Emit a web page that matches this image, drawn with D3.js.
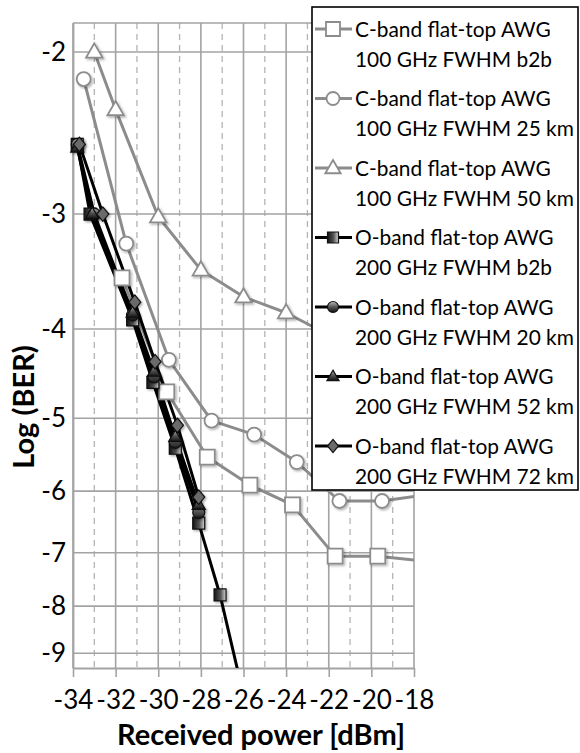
<!DOCTYPE html>
<html>
<head>
<meta charset="utf-8">
<script src="https://cdn.jsdelivr.net/npm/d3@7"></script>
<style>
  html, body { margin: 0; padding: 0; background: #fff; }
  svg { display: block; }
  text { font-family: Lato, "Noto Sans", sans-serif; fill: #000; }
</style>
</head>
<body>
<svg id="chart" width="580" height="753"></svg>
<script>
// ---------- data ----------
const xTicks = [-34, -32, -30, -28, -26, -24, -22, -20, -18];
const xMinor = [-33, -31, -29, -27, -25, -23, -21, -19];
const yTicks = [-2, -3, -4, -5, -6, -7, -8, -9];

const cB2bX = [-31.7, -29.6, -27.7, -25.7, -23.7, -21.7, -19.7, -17.7];
const cB2bY = [-3.52, -4.68, -5.51, -5.91, -6.21, -7.06, -7.06, -7.14];

const c25X = [-33.5, -31.5, -29.5, -27.5, -25.5, -23.5, -21.5, -19.5, -17.5];
const c25Y = [-2.14, -3.23, -4.32, -5.03, -5.21, -5.58, -6.15, -6.15, -6.06];

const c50X = [-33.0, -32.0, -30.0, -28.0, -26.0, -24.0, -22.0, -20.0];
const c50Y = [-2.0, -2.31, -3.02, -3.45, -3.69, -3.84, -4.06, -4.2];

const oB2bX = [-33.8, -33.2, -31.2, -30.25, -29.2, -28.1, -27.1, -26.0];
const oB2bY = [-2.52, -3.0, -3.91, -4.57, -5.39, -6.50, -7.78, -10.0];

const o20X = [-33.8, -33.0, -31.2, -30.2, -29.2, -28.1];
const o20Y = [-2.52, -3.0, -3.86, -4.51, -5.31, -6.33];

const o52X = [-33.8, -33.1, -31.2, -30.2, -29.2, -28.1];
const o52Y = [-2.54, -3.0, -3.84, -4.45, -5.24, -6.21];

const o72X = [-33.7, -32.6, -31.1, -30.15, -29.1, -28.1];
const o72Y = [-2.52, -3.0, -3.74, -4.34, -5.09, -6.09];

const seriesNames = [
  ["C-band flat-top AWG", "100 GHz FWHM b2b"],
  ["C-band flat-top AWG", "100 GHz FWHM 25 km"],
  ["C-band flat-top AWG", "100 GHz FWHM 50 km"],
  ["O-band flat-top AWG", "200 GHz FWHM b2b"],
  ["O-band flat-top AWG", "200 GHz FWHM 20 km"],
  ["O-band flat-top AWG", "200 GHz FWHM 52 km"],
  ["O-band flat-top AWG", "200 GHz FWHM 72 km"]
];

const series = [
  { x: cB2bX, y: cB2bY, shape: "square", band: "C" },
  { x: c25X, y: c25Y, shape: "circle", band: "C" },
  { x: c50X, y: c50Y, shape: "triangle", band: "C" },
  { x: oB2bX, y: oB2bY, shape: "square", band: "O" },
  { x: o20X, y: o20Y, shape: "circle", band: "O" },
  { x: o52X, y: o52Y, shape: "triangle", band: "O" },
  { x: o72X, y: o72Y, shape: "diamond", band: "O" }
].map((s, i) => ({ ...s, name: seriesNames[i], pts: s.x.map((v, j) => [v, s.y[j]]) }));

// ---------- layout ----------
const L = 73, R = 414, T = 23, B = 668;
const svg = d3.select("#chart");

const x = d3.scaleLinear().domain([-34, -18]).range([L, R]);
// Log(BER) axis: log scale applied to -Log(BER)
const yLog = d3.scaleLog().domain([1.86, 9.34]).range([T, B]);
const y = v => yLog(-v);

const defs = svg.append("defs");
defs.append("clipPath").attr("id", "plotclip")
  .append("rect").attr("x", L).attr("y", T).attr("width", R - L).attr("height", B - T);
const grad = defs.append("linearGradient").attr("id", "ograd")
  .attr("x1", "0").attr("y1", "0").attr("x2", "1").attr("y2", "0");
grad.append("stop").attr("offset", "0").attr("stop-color", "#111");
grad.append("stop").attr("offset", "0.55").attr("stop-color", "#555");
grad.append("stop").attr("offset", "1").attr("stop-color", "#d8d8d8");
const gradV = defs.append("linearGradient").attr("id", "ogradV")
  .attr("x1", "0").attr("y1", "0").attr("x2", "0").attr("y2", "1");
gradV.append("stop").attr("offset", "0").attr("stop-color", "#bbb");
gradV.append("stop").attr("offset", "0.5").attr("stop-color", "#555");
gradV.append("stop").attr("offset", "1").attr("stop-color", "#111");
const sh = defs.append("filter").attr("id", "shadow").attr("x", "-50%").attr("y", "-50%").attr("width", "200%").attr("height", "200%");
sh.append("feDropShadow").attr("dx", 1.5).attr("dy", 1.5).attr("stdDeviation", 1.2).attr("flood-color", "#000").attr("flood-opacity", 0.3);

// ---------- grid ----------
const grid = svg.append("g");
grid.selectAll(".minor").data(xMinor).join("line")
  .attr("x1", d => x(d)).attr("x2", d => x(d)).attr("y1", T).attr("y2", B)
  .attr("stroke", "#b4b4b4").attr("stroke-width", 1.3).attr("stroke-dasharray", "6,5");
grid.selectAll(".major").data(xTicks).join("line")
  .attr("x1", d => x(d)).attr("x2", d => x(d)).attr("y1", T).attr("y2", B)
  .attr("stroke", "#a3a3a3").attr("stroke-width", 1.6);
grid.selectAll(".hline").data(yTicks).join("line")
  .attr("x1", L).attr("x2", R).attr("y1", d => y(d)).attr("y2", d => y(d))
  .attr("stroke", "#a3a3a3").attr("stroke-width", 1.6);
grid.append("line").attr("x1", L).attr("x2", R).attr("y1", T).attr("y2", T)
  .attr("stroke", "#a3a3a3").attr("stroke-width", 1.6);

// ---------- axes ----------
const xAxis = svg.append("g").attr("transform", `translate(0,${B})`)
  .call(d3.axisBottom(x).tickValues(xTicks).tickSize(9).tickSizeOuter(0).tickPadding(14).tickFormat(d3.format("d")));
xAxis.select(".domain").attr("stroke", "#a3a3a3").attr("stroke-width", 1.8);
xAxis.selectAll(".tick line").attr("stroke", "#a3a3a3").attr("stroke-width", 1.6);
xAxis.selectAll("text").style("font-size", "26px").style("font-family", "Lato, 'Noto Sans', sans-serif")
  .text(d => "-" + Math.abs(d)).attr("fill", "#000");

const yAxis = svg.append("g").attr("transform", `translate(${L},0)`)
  .call(d3.axisLeft(yLog).tickValues(yTicks.map(v => -v)).tickSize(0).tickPadding(7).tickFormat(d => "-" + d));
yAxis.select(".domain").attr("stroke", "#a3a3a3").attr("stroke-width", 1.8);
yAxis.selectAll("text").style("font-size", "26px").style("font-family", "Lato, 'Noto Sans', sans-serif").attr("fill", "#000");

// ---------- series ----------
const line = d3.line().x(d => x(d[0])).y(d => y(d[1]));
const plot = svg.append("g").attr("clip-path", "url(#plotclip)");

function markerPath(shape, s) {
  if (shape === "square") return `M${-s},${-s}H${s}V${s}H${-s}Z`;
  if (shape === "circle") return d3.symbol(d3.symbolCircle, Math.PI * s * s)();
  if (shape === "triangle") return `M0,${-s * 1.15}L${s * 1.1},${s * 0.75}L${-s * 1.1},${s * 0.75}Z`;
  if (shape === "diamond") return `M0,${-s * 1.2}L${s},0L0,${s * 1.2}L${-s},0Z`;
}
function styleMarker(sel, s) {
  if (s.band === "C") {
    sel.attr("fill", "#fff").attr("stroke", "#8c8c8c").attr("stroke-width", 1.8);
  } else {
    sel.attr("fill", s.shape === "square" ? "url(#ograd)" : (s.shape === "diamond" ? "#6a6a6a" : "url(#ogradV)"))
      .attr("stroke", "#111").attr("stroke-width", 1.2);
  }
}
const cSize = { square: 7.5, circle: 7, triangle: 7.5 };
const oSize = { square: 6, circle: 6, triangle: 6, diamond: 6 };

series.forEach(s => {
  plot.append("path").datum(s.pts)
    .attr("d", line).attr("fill", "none")
    .attr("stroke", s.band === "C" ? "#8c8c8c" : "#000")
    .attr("stroke-width", 3)
    .attr("stroke-linejoin", "round");
});
series.forEach(s => {
  const sz = s.band === "C" ? cSize[s.shape] : oSize[s.shape];
  const g = svg.append("g").attr("filter", "url(#shadow)");
  const m = g.selectAll("path").data(s.pts.filter(p => p[0] <= -18 && -p[1] <= 9.34)).join("path")
    .attr("transform", d => `translate(${x(d[0])},${y(d[1])})`)
    .attr("d", markerPath(s.shape, sz));
  styleMarker(m, s);
});

// ---------- axis titles ----------
svg.append("text").attr("x", 261).attr("y", 745).attr("text-anchor", "middle")
  .style("font-size", "29px").style("font-weight", "bold").text("Received power [dBm]");
svg.append("text").attr("transform", "translate(34,407) rotate(-90)").attr("text-anchor", "middle")
  .style("font-size", "29px").style("font-weight", "bold").text("Log (BER)");

// ---------- legend ----------
const lg = svg.append("g");
lg.append("rect").attr("x", 312).attr("y", 7).attr("width", 266).attr("height", 483)
  .attr("fill", "#fff").attr("stroke", "#000").attr("stroke-width", 1.6);
series.forEach((s, i) => {
  const cy = 29 + 69.5 * i;
  const g = lg.append("g");
  g.append("line").attr("x1", 315).attr("x2", 352).attr("y1", cy).attr("y2", cy)
    .attr("stroke", s.band === "C" ? "#8c8c8c" : "#000").attr("stroke-width", 3);
  const sz = (s.band === "C" ? cSize[s.shape] : oSize[s.shape]) - 0.5;
  const m = g.append("path").attr("transform", `translate(333,${cy})`).attr("d", markerPath(s.shape, sz));
  styleMarker(m, s);
  g.append("text").attr("transform", `translate(355,${cy}) scale(0.95,1)`).attr("dy", "0.36em")
    .style("font-size", "22px").text(s.name[0]);
  g.append("text").attr("transform", `translate(355,${cy + 30}) scale(0.95,1)`).attr("dy", "0.36em")
    .style("font-size", "22px").text(s.name[1]);
});
</script>
</body>
</html>
